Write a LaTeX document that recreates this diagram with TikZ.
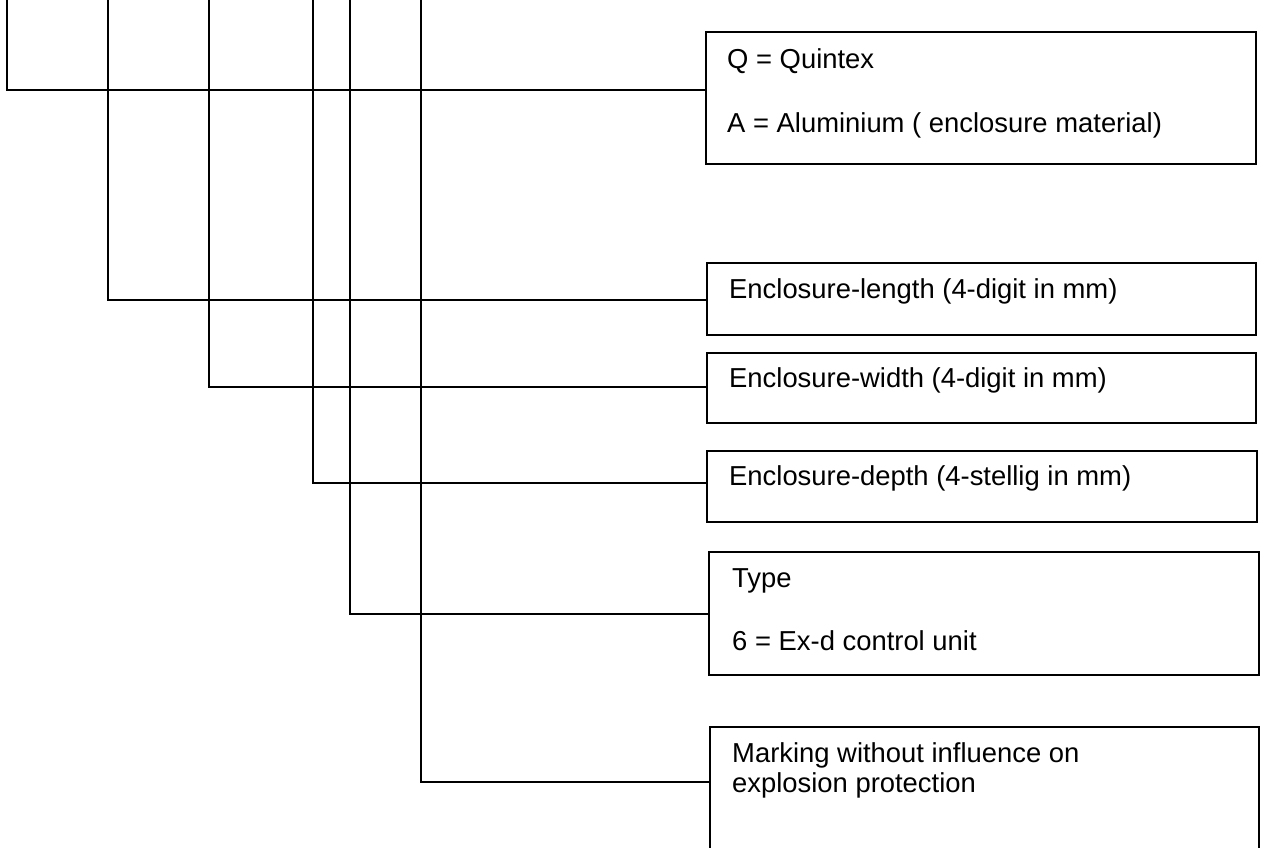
\documentclass[tikz,border=0pt]{standalone}
\usepackage{fontspec}
\setmainfont{Liberation Sans}
\begin{document}
\begin{tikzpicture}[x=1pt,y=-1pt,
  box/.style={draw=black, line width=1.4pt, rectangle, anchor=north west, inner sep=0pt, outer sep=0pt},
  wire/.style={draw=black, line width=1.5pt},
  lbl/.style={anchor=base west, inner sep=0pt, font=\fontsize{27.4}{32}\selectfont}]
\useasboundingbox (0,0) rectangle (1263,847);
\clip (0,0) rectangle (1263,847);

% boxes
\node[box, minimum width=550pt, minimum height=132pt] (b1) at (706,32) {};
\node[box, minimum width=549pt, minimum height=72pt]  (b2) at (707,263) {};
\node[box, minimum width=549pt, minimum height=70pt]  (b3) at (707,353) {};
\node[box, minimum width=550pt, minimum height=71pt]  (b4) at (707,451) {};
\node[box, minimum width=550pt, minimum height=123pt] (b5) at (709,552) {};
\node[box, minimum width=549pt, minimum height=135pt] (b6) at (710,727) {};

% texts
\node[lbl] (q1) at (727,68) {Q = Quintex};
\node[lbl] (q2) at (727,132) {A = Aluminium ( enclosure material)};
\node[lbl] (l1) at (729,298) {Enclosure-length (4-digit in mm)};
\node[lbl] (w1) at (729,387) {Enclosure-width (4-digit in mm)};
\node[lbl] (d1) at (729,485) {Enclosure-depth (4-stellig in mm)};
\node[lbl] (ty1) at (732,587) {Type};
\node[lbl] (ty2) at (732,650) {6 = Ex-d control unit};
\node[lbl] (m1) at (732,762) {Marking without influence on};
\node[lbl] (m2) at (732,792) {explosion protection};

% connector starts (top edge)
\coordinate (t1) at (7,-2);
\coordinate (t2) at (108,-2);
\coordinate (t3) at (209,-2);
\coordinate (t4) at (313,-2);
\coordinate (t5) at (350,-2);
\coordinate (t6) at (421,-2);

% connectors
\draw[wire] (t1) |- ([yshift=-58pt]b1.north west);
\draw[wire] (t2) |- ([yshift=-37pt]b2.north west);
\draw[wire] (t3) |- ([yshift=-34pt]b3.north west);
\draw[wire] (t4) |- ([yshift=-32pt]b4.north west);
\draw[wire] (t5) |- ([yshift=-62pt]b5.north west);
\draw[wire] (t6) |- ([yshift=-55pt]b6.north west);
\end{tikzpicture}
\end{document}
